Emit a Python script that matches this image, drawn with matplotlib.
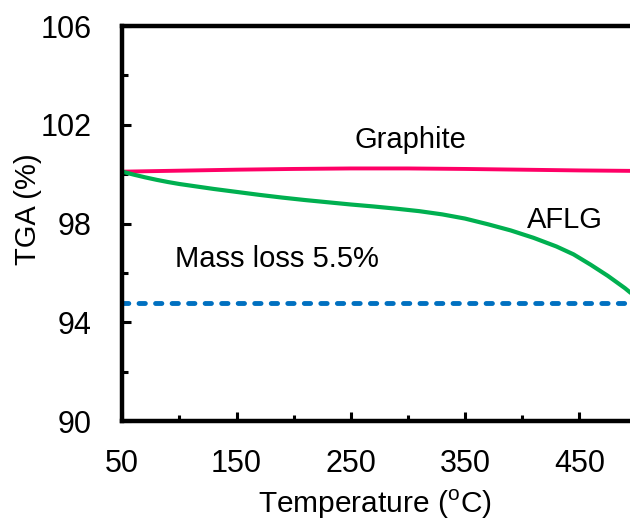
import numpy as np
import matplotlib
matplotlib.use("Agg")
import matplotlib.pyplot as plt
from matplotlib.ticker import FixedLocator, NullFormatter

plt.rcParams['font.family'] = ['Liberation Sans', 'DejaVu Sans']
plt.rcParams['mathtext.fontset'] = 'custom'
plt.rcParams['mathtext.rm'] = 'Liberation Sans'

# TGA curves
graphite_T = [50, 100, 150, 200, 250, 300, 350, 400, 450, 500]
graphite_tga = [100.1, 100.14, 100.18, 100.21, 100.23, 100.23, 100.21, 100.18, 100.15, 100.13]

aflg_T = [50, 60, 70, 80, 90, 100, 115, 130, 150, 170, 190, 210, 230, 250,
          270, 290, 310, 330, 350, 370, 390, 410, 430, 445, 460, 475, 490, 500]
aflg_tga = [100.1, 99.98, 99.87, 99.77, 99.68, 99.6, 99.5, 99.4, 99.28, 99.16,
            99.05, 98.95, 98.86, 98.77, 98.69, 98.6, 98.5, 98.37, 98.2, 97.97,
            97.72, 97.42, 97.07, 96.75, 96.33, 95.88, 95.38, 95.0]

mass_loss_level = 94.8

x_major = [50, 150, 250, 350, 450]
x_minor = [100, 200, 300, 400, 500]
y_major = [90, 94, 98, 102, 106]
y_minor = [92, 96, 100, 104]

fig = plt.figure(figsize=(6.3, 5.19), dpi=100)
# axes run past the right edge, the original is cropped there
ax = fig.add_axes([0.1941, 0.1888, 0.9067, 0.7611])

ax.plot(graphite_T, graphite_tga, color='#FF0066', lw=2.8, solid_capstyle='butt')
ax.plot(aflg_T, aflg_tga, color='#00B050', lw=3.0, solid_capstyle='butt')
ax.axhline(mass_loss_level, color='#0070C0', lw=3.5, dashes=(1.3, 2.1),
           dash_capstyle='round')

ax.text(302, 101.38, 'Graphite', fontsize=21, ha='center', va='center')
ax.text(437, 98.16, 'AFLG', fontsize=21, ha='center', va='center')
ax.text(185, 96.56, 'Mass loss 5.5%', fontsize=21, ha='center', va='center')

ax.set_xlim(50, 550)
ax.set_ylim(90, 106)

ax.xaxis.set_major_locator(FixedLocator(x_major))
ax.xaxis.set_minor_locator(FixedLocator(x_minor))
ax.xaxis.set_minor_formatter(NullFormatter())
ax.yaxis.set_major_locator(FixedLocator(y_major))
ax.yaxis.set_minor_locator(FixedLocator(y_minor))
ax.yaxis.set_minor_formatter(NullFormatter())

ax.tick_params(which='both', direction='in', width=2.2, labelsize=22)
ax.tick_params(which='major', length=6.5)
ax.tick_params(which='minor', length=4.5)
ax.tick_params(axis='x', pad=20)
ax.tick_params(axis='y', pad=22)

for s in ['top', 'left', 'bottom']:
    ax.spines[s].set_linewidth(3.2)
ax.spines['right'].set_visible(False)

ax.set_xlabel(r'Temperature ($^{\mathrm{o}}$C)', fontsize=21.5)
ax.xaxis.label.set_verticalalignment('center')
ax.xaxis.set_label_coords(0.4424, -0.21)
ax.set_ylabel('TGA (%)', fontsize=21)
ax.yaxis.label.set_verticalalignment('center')
ax.yaxis.set_label_coords(-0.165, 0.535)

plt.savefig('out.png', dpi=100)
